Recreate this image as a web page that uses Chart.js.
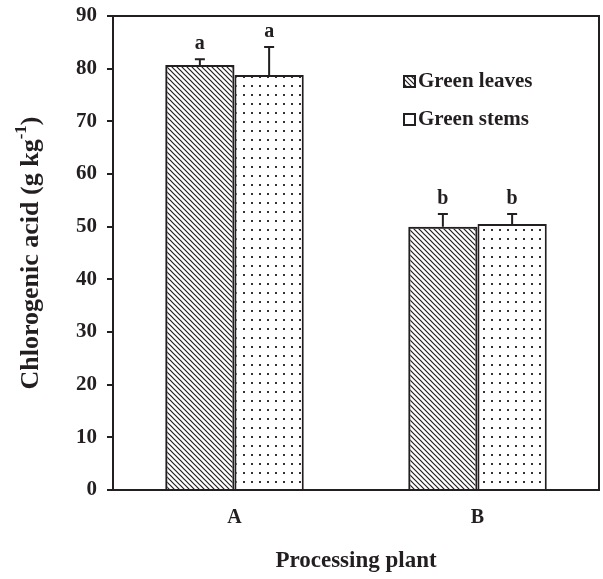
<!DOCTYPE html>
<html>
<head>
<meta charset="utf-8">
<script src="https://cdn.jsdelivr.net/npm/chart.js@4.4.1/dist/chart.umd.min.js"></script>
<style>
  html, body { margin: 0; padding: 0; background: #fff; }
  #wrap { width: 603px; height: 579px; }
</style>
</head>
<body>
<div id="wrap"><canvas id="chart"></canvas></div>
<script>
const categories = ['A', 'B'];
const leaves = [80.7, 50.0];
const stems = [78.8, 50.5];
const leavesErr = [1.1, 2.4];
const stemsErr = [5.3, 1.9];
const leavesLetters = ['a', 'b'];
const stemsLetters = ['a', 'b'];
const seriesNames = ['Green leaves', 'Green stems'];

const SERIF = '"Liberation Serif", "Times New Roman", serif';
const INK = '#231f20';

// hatch \\\ for leaves
function hatchPattern() {
  const s = 5;
  const c = document.createElement('canvas');
  c.width = s; c.height = s;
  const g = c.getContext('2d');
  g.strokeStyle = INK;
  g.lineWidth = 1.2;
  g.beginPath();
  g.moveTo(-1, -1); g.lineTo(s + 1, s + 1);
  g.moveTo(-1, s - 1); g.lineTo(1, s + 1);
  g.moveTo(s - 1, -1); g.lineTo(s + 1, 1);
  g.stroke();
  return g.createPattern(c, 'repeat');
}

// sparse dots for stems
function dotPattern() {
  const c = document.createElement('canvas');
  c.width = 8; c.height = 9;
  const g = c.getContext('2d');
  g.fillStyle = '#fff';
  g.fillRect(0, 0, 8, 9);
  g.fillStyle = '#333';
  g.fillRect(3, 4, 2, 2);
  return g.createPattern(c, 'repeat');
}

const hatch = hatchPattern();
const dots = dotPattern();

const errorBars = {
  id: 'errorBars',
  afterDatasetsDraw(chart) {
    const { ctx, scales: { y } } = chart;
    const errs = [leavesErr, stemsErr];
    const letters = [leavesLetters, stemsLetters];
    ctx.save();
    ctx.strokeStyle = INK;
    ctx.fillStyle = INK;
    ctx.lineWidth = 2;
    ctx.font = 'bold 20px ' + SERIF;
    ctx.textAlign = 'center';
    ctx.textBaseline = 'alphabetic';
    chart.data.datasets.forEach((ds, di) => {
      chart.getDatasetMeta(di).data.forEach((bar, i) => {
        const top = y.getPixelForValue(ds.data[i] + errs[di][i]);
        ctx.beginPath();
        ctx.moveTo(bar.x, bar.y);
        ctx.lineTo(bar.x, top);
        ctx.moveTo(bar.x - 5, top);
        ctx.lineTo(bar.x + 5, top);
        ctx.stroke();
        ctx.fillText(letters[di][i], bar.x, top - 10);
      });
    });
    ctx.restore();
  }
};

const frame = {
  id: 'frame',
  afterDraw(chart) {
    const { ctx, chartArea: a } = chart;
    ctx.save();
    ctx.strokeStyle = INK;
    ctx.lineWidth = 2;
    ctx.beginPath();
    ctx.moveTo(a.left, a.top);
    ctx.lineTo(a.right, a.top);
    ctx.lineTo(a.right, a.bottom);
    ctx.stroke();

    // legend inside the plot
    const fills = [hatch, null];
    ctx.font = 'bold 21px ' + SERIF;
    ctx.textBaseline = 'middle';
    ctx.textAlign = 'left';
    seriesNames.forEach((name, i) => {
      const bx = a.left + 291, cy = a.top + 66 + i * 38;
      ctx.fillStyle = '#fff';
      ctx.fillRect(bx, cy - 6, 11, 11);
      if (fills[i]) { ctx.fillStyle = fills[i]; ctx.fillRect(bx, cy - 6, 11, 11); }
      ctx.lineWidth = 2;
      ctx.strokeRect(bx, cy - 6, 11, 11);
      ctx.fillStyle = INK;
      ctx.fillText(name, bx + 14, cy);
    });

    // y title with superscript
    const main = 'Chlorogenic acid (g kg';
    const sup = '-1';
    const end = ')';
    const big = 'bold 26px ' + SERIF, small = 'bold 17px ' + SERIF;
    ctx.font = big;
    const w1 = ctx.measureText(main).width, w3 = ctx.measureText(end).width;
    ctx.font = small;
    const w2 = ctx.measureText(sup).width;
    const total = w1 + w2 + w3;
    ctx.translate(29, (a.top + a.bottom) / 2);
    ctx.rotate(-Math.PI / 2);
    ctx.textBaseline = 'middle';
    let x = -total / 2;
    ctx.font = big; ctx.fillText(main, x, 2); x += w1;
    ctx.font = small; ctx.fillText(sup, x, -7); x += w2;
    ctx.font = big; ctx.fillText(end, x, 2);
    ctx.restore();
  }
};

new Chart(document.getElementById('chart'), {
  type: 'bar',
  data: {
    labels: categories,
    datasets: [
      { label: seriesNames[0], data: leaves, backgroundColor: hatch, borderColor: INK, borderWidth: 2 },
      { label: seriesNames[1], data: stems, backgroundColor: dots, borderColor: INK, borderWidth: 2 }
    ]
  },
  options: {
    responsive: true,
    maintainAspectRatio: false,
    animation: false,
    events: [],
    categoryPercentage: 0.57,
    barPercentage: 1.0,
    layout: { padding: { top: 16, right: 4, left: 0, bottom: 0 } },
    plugins: {
      legend: { display: false },
      tooltip: { enabled: false }
    },
    scales: {
      x: {
        afterFit: (s) => { s.height = 89; },
        grid: { display: false, drawTicks: false },
        border: { display: true, color: INK, width: 2 },
        ticks: { color: INK, padding: 16, font: { family: SERIF, size: 20, weight: 'bold' } },
        title: {
          display: true, text: 'Processing plant', color: INK,
          padding: { top: 0, bottom: 4 },
          font: { family: SERIF, size: 23, weight: 'bold' }
        }
      },
      y: {
        min: 0, max: 90,
        afterFit: (s) => { s.width = 113; s.paddingTop = 0; s.paddingBottom = 0; },
        grid: { drawOnChartArea: false, drawTicks: true, tickLength: 6, color: INK, lineWidth: 2 },
        border: { display: true, color: INK, width: 2 },
        ticks: { stepSize: 10, color: INK, padding: 10, font: { family: SERIF, size: 21, weight: 'bold', lineHeight: 0.6 } }
      }
    }
  },
  plugins: [errorBars, frame]
});
</script>
</body>
</html>
